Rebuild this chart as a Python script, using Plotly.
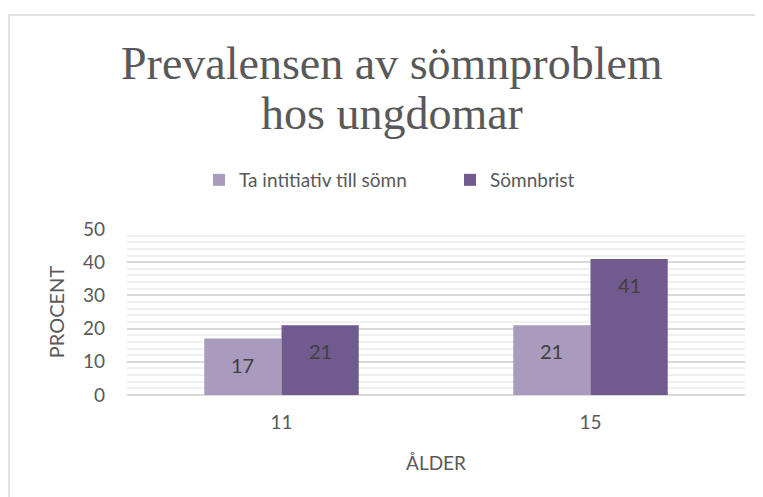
import plotly.graph_objects as go

ages = ["11", "15"]
initiativ = [17, 21]
somnbrist = [21, 41]
series_names = ["Ta intitiativ till sömn", "Sömnbrist"]
colors = ["#A99BBD", "#715A8E"]
title_lines = ["Prevalensen av sömnproblem", "hos ungdomar"]

# page body adds an 8px margin, so the figure is 8px smaller and shifted
W, H = 755, 489
ml, mr, mt, mb = 119, 18, 221, 102
pw, ph = W - ml - mr, H - mt - mb

fig = go.Figure()
for name, vals, col in zip(series_names, [initiativ, somnbrist], colors):
    fig.add_trace(go.Bar(x=ages, y=vals, name=name, marker=dict(color=col, line=dict(width=0))))

# data labels, inside end of each bar (annotation x = category index)
shift = pw / 2 * 0.5 / 4
for i, vals in enumerate([initiativ, somnbrist]):
    for k, v in enumerate(vals):
        fig.add_annotation(x=k, y=v, text=str(v), showarrow=False, xshift=(-shift if i == 0 else shift),
                           yshift=-26, font=dict(size=20, color="#404040"))

# title, one annotation per line for tighter line spacing
for line, ypix in zip(title_lines, [55, 105]):
    fig.add_annotation(text=line, xref="paper", yref="paper", x=(384 - ml) / pw, y=(H - mb - ypix) / ph,
                       xanchor="center", yanchor="middle", showarrow=False,
                       font=dict(family="Liberation Serif, serif", size=46, color="#595959"))

# chart border (only left/top visible)
fig.add_shape(type="rect", xref="paper", yref="paper",
              x0=(1 - ml) / pw, x1=(W + 20 - ml) / pw,
              y0=(H - mb - (H + 20)) / ph, y1=(H - mb - 7) / ph,
              line=dict(color="#D9D9D9", width=1.5), layer="below")

fig.update_layout(
    width=W, height=H,
    margin=dict(l=ml, r=mr, t=mt, b=mb),
    paper_bgcolor="white", plot_bgcolor="white",
    barmode="group", bargap=0.5, bargroupgap=0,
    font=dict(family="Lato, Open Sans, sans-serif", color="#595959", size=19),
    legend=dict(orientation="h", x=(191 - ml) / pw, xanchor="left", y=(H - mb - 172) / ph, yanchor="middle",
                font=dict(size=19, color="#595959"), traceorder="normal", entrywidth=206),
    showlegend=True,
)
fig.update_xaxes(type="category", range=[-0.5, 1.5], showgrid=False, showline=False, ticks="",
                 tickfont=dict(size=19), ticklabelstandoff=14,
                 title=dict(text="ÅLDER", font=dict(size=19), standoff=24))
fig.update_yaxes(range=[0, 50], dtick=10, gridcolor="#D9D9D9", gridwidth=1.5,
                 zeroline=True, zerolinecolor="#D9D9D9", zerolinewidth=1.5,
                 minor=dict(dtick=2, showgrid=True, gridcolor="#F0F0F0", gridwidth=1.5),
                 tickfont=dict(size=19), ticklabelstandoff=21,
                 title=dict(text="PROCENT", font=dict(size=20), standoff=12))

fig.write_html("out.html")
